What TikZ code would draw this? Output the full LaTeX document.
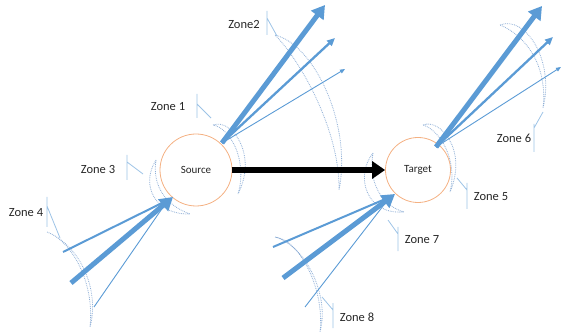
\documentclass[tikz,border=0pt]{standalone}
\usepackage{fontspec}
\setmainfont{Carlito}
\usetikzlibrary{arrows.meta}
\definecolor{arrowblue}{HTML}{5B9BD5}
\definecolor{cresblue}{HTML}{8FAFD6}
\definecolor{callblue}{HTML}{9DC3E6}
\definecolor{circorange}{HTML}{F4B183}
\definecolor{textgray}{HTML}{262626}
\tikzset{
  zonelabel/.style={font=\fontsize{12.5}{14}\selectfont, text=textgray, inner sep=0pt},
  endpoint/.style={circle, draw=circorange, line width=0.8pt, font=\fontsize{11}{13}\selectfont, text=textgray, inner sep=0pt},
  cres/.style={draw=cresblue, densely dotted, line width=0.8pt},
  callline/.style={draw=callblue, line width=0.8pt},
  beamthick/.style={draw=arrowblue, line width=5pt, -{Triangle[length=13pt,width=15pt]}},
  beammid/.style={draw=arrowblue, line width=2.3pt, -{Triangle[length=8pt,width=7pt]}},
  beamthin/.style={draw=arrowblue, line width=0.9pt, -{Triangle[length=5pt,width=4pt]}},
  mainarrow/.style={draw=black, line width=6pt, -{Triangle[length=13pt,width=17pt]}}
}
\begin{document}
\begin{tikzpicture}[x=1pt,y=-1pt]
\useasboundingbox (0,0) rectangle (561,336);

% endpoints
\node[endpoint, minimum size=72pt] (src) at (196,170) {Source};
\node[endpoint, minimum size=65pt] (tgt) at (418,170) {Target};

% crescents (source)
\draw[cres] (213,125) .. controls (232,118) and (258,155) .. (238,194)
            .. controls (248,160) and (230,128) .. (213,125);
\draw[cres] (156,160) .. controls (140,185) and (155,215) .. (190,214)
            .. controls (165,205) and (152,185) .. (156,160);
\draw[cres] (275,35) .. controls (315,45) and (352,125) .. (339,190)
            .. controls (340,130) and (300,60) .. (275,35);
\draw[cres] (47,232) .. controls (70,240) and (95,280) .. (90,327)
            .. controls (100,290) and (80,245) .. (47,232);
% crescents (target)
\draw[cres] (423,125) .. controls (440,118) and (468,150) .. (450,192)
            .. controls (458,160) and (440,130) .. (423,125);
\draw[cres] (373,153) .. controls (355,175) and (365,215) .. (404,212)
            .. controls (380,205) and (368,180) .. (373,153);
\draw[cres] (500,25) .. controls (525,15) and (555,60) .. (543,108)
            .. controls (548,65) and (525,35) .. (500,25);
\draw[cres] (275,237) .. controls (300,240) and (325,290) .. (320,332)
            .. controls (330,295) and (305,245) .. (275,237);

% beam coordinates
\coordinate (s0) at (222,143);
\coordinate (s1) at (325,5);
\coordinate (s2) at (335,38);
\coordinate (s3) at (345,69);
\coordinate (t0) at (436,147);
\coordinate (t1) at (542,6);
\coordinate (t2) at (553,37);
\coordinate (t3) at (561,67);
\coordinate (a1) at (71,283);
\coordinate (a2) at (63,252);
\coordinate (a3) at (94,307);
\coordinate (a0) at (173,197);
\coordinate (a0b) at (168,200);
\coordinate (b1) at (283,278);
\coordinate (b2) at (273,247);
\coordinate (b3) at (305,307);
\coordinate (b0) at (395,194);
\coordinate (b0b) at (390,197);

% beams out of source and target
\draw[beamthin] (s0) -- (s3);
\draw[beammid] (s0) -- (s2);
\draw[beamthick] (s0) -- (s1);
\draw[beamthin] (t0) -- (t3);
\draw[beammid] (t0) -- (t2);
\draw[beamthick] (t0) -- (t1);
% beams into source and target
\draw[draw=arrowblue, line width=0.9pt] (a3) -- (a0b);
\draw[draw=arrowblue, line width=2pt] (a2) -- (a0b);
\draw[beamthick] (a1) -- (a0);
\draw[draw=arrowblue, line width=0.9pt] (b3) -- (b0b);
\draw[draw=arrowblue, line width=2pt] (b2) -- (b0b);
\draw[beamthick] (b1) -- (b0);

% main arrow
\draw[mainarrow] (src.east) -- (tgt.west);

% labels and callouts
\node[zonelabel] (z1) at (168,107) {Zone 1};
\draw[callline] (197,94) -- (197,118) (197,104) -- (211,118);
\node[zonelabel] (z2) at (244,24) {Zone2};
\draw[callline] (267,11) -- (267,35) (267,18) -- (277,36);
\node[zonelabel] (z3) at (98,169) {Zone 3};
\draw[callline] (127,155) -- (127,180) (127,162) -- (143,174);
\node[zonelabel] (z4) at (26,213) {Zone 4};
\draw[callline] (47,197) -- (47,227) (47,206) -- (60,238);
\node[zonelabel] (z5) at (491,197) {Zone 5};
\draw[callline] (467,183) -- (467,209) (467,190) -- (457,178);
\node[zonelabel] (z6) at (514,138) {Zone 6};
\draw[callline] (534,124) -- (534,152) (534,128) -- (543,112);
\node[zonelabel] (z7) at (422,240) {Zone 7};
\draw[callline] (398,227) -- (398,251) (398,234) -- (388,220);
\node[zonelabel] (z8) at (357,317) {Zone 8};
\draw[callline] (333,303) -- (333,328) (333,310) -- (322,297);
\end{tikzpicture}
\end{document}
